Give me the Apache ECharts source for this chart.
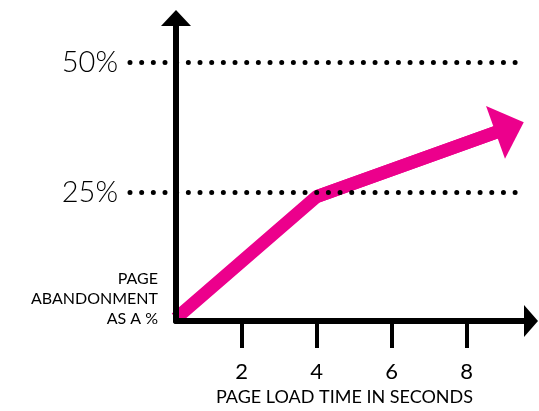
<!DOCTYPE html>
<html>
<head>
<meta charset="utf-8">
<script src="https://cdn.jsdelivr.net/npm/echarts@6/dist/echarts.min.js"></script>
<style>
  html, body { margin: 0; padding: 0; background: #fff; }
  #chart { width: 539px; height: 411px; }
</style>
</head>
<body>
<div id="chart"></div>
<script>
// data
const loadTimes = [0.25, 4, 9.15];      // seconds
const abandonment = [0.5, 24, 37.4];    // %
const gridValues = [25, 50];            // dotted reference lines
const xTicks = [2, 4, 6, 8];

const font = 'Lato, "Noto Sans", sans-serif';
const pink = '#EC008C';

const chart = echarts.init(document.getElementById('chart'));

const path = loadTimes.map(function (t, i) { return [t, abandonment[i]]; });
// last segment, drawn again so it can carry the arrow head
const lastSeg = path.slice(-2);

const option = {
  animation: false,
  grid: [
    // grid for the dotted lines + % labels (reaches left of the y axis)
    { left: 130, right: 18, top: 18, bottom: 88 },
    // main grid
    { left: 176, right: 8, top: 18, bottom: 88 }
  ],
  xAxis: [
    { gridIndex: 0, type: 'value', min: -0.95, max: 9.45, show: false },
    {
      gridIndex: 1, type: 'value', min: 0.25, max: 9.72, z: 5,
      axisLine: {
        lineStyle: { color: '#000', width: 6 },
        symbol: ['none', 'triangle'], symbolSize: [32, 14]
      },
      axisTick: {
        customValues: xTicks, length: 27, inside: false,
        lineStyle: { color: '#000', width: 4 }
      },
      axisLabel: {
        customValues: xTicks, margin: 40, color: '#000',
        fontSize: 22, fontFamily: font
      },
      splitLine: { show: false },
      name: 'PAGE LOAD TIME IN SECONDS',
      nameLocation: 'middle', nameGap: 67,
      nameTextStyle: { color: '#000', fontSize: 18, fontFamily: font, padding: [0, 18, 0, 0] }
    }
  ],
  yAxis: [
    {
      gridIndex: 0, type: 'value', min: 0, max: 58.5,
      axisLine: { show: false }, axisTick: { show: false }, splitLine: { show: false },
      axisLabel: {
        customValues: gridValues, margin: 12, color: '#000',
        fontSize: 29, fontFamily: font, fontWeight: 300,
        formatter: '{value}%'
      }
    },
    {
      gridIndex: 1, type: 'value', min: 0, max: 58.5, z: 5,
      axisLine: {
        onZero: false,
        lineStyle: { color: '#000', width: 6 },
        symbol: ['none', 'triangle'], symbolSize: [30, 16]
      },
      axisTick: { show: false }, axisLabel: { show: false }, splitLine: { show: false },
      name: 'PAGE\nABANDONMENT\nAS A %',
      nameLocation: 'start', nameGap: 8, nameRotate: 0,
      nameTextStyle: {
        color: '#000', fontSize: 16, fontFamily: font, lineHeight: 20,
        align: 'right', verticalAlign: 'bottom', padding: [0, 18, 0, 0]
      }
    }
  ],
  series: [
    {
      type: 'line', xAxisIndex: 0, yAxisIndex: 0, data: [],
      markLine: {
        silent: true, symbol: 'none', label: { show: false },
        lineStyle: { color: '#000', width: 5, type: [0, 11.67], cap: 'round' },
        data: gridValues.map(function (v) { return { yAxis: v }; })
      }
    },
    {
      type: 'lines', coordinateSystem: 'cartesian2d', polyline: true,
      xAxisIndex: 1, yAxisIndex: 1, z: 3,
      lineStyle: { color: pink, width: 13, opacity: 1, join: 'miter' },
      data: [{ coords: path }]
    },
    {
      type: 'lines', coordinateSystem: 'cartesian2d',
      xAxisIndex: 1, yAxisIndex: 1, z: 3,
      symbol: ['none', 'triangle'], symbolSize: [1, [56, 30]],
      lineStyle: { color: pink, width: 13, opacity: 1 },
      itemStyle: { color: pink },
      data: [{ coords: lastSeg }]
    }
  ]
};

chart.setOption(option);
window.addEventListener('resize', function () { chart.resize(); });
</script>
</body>
</html>
